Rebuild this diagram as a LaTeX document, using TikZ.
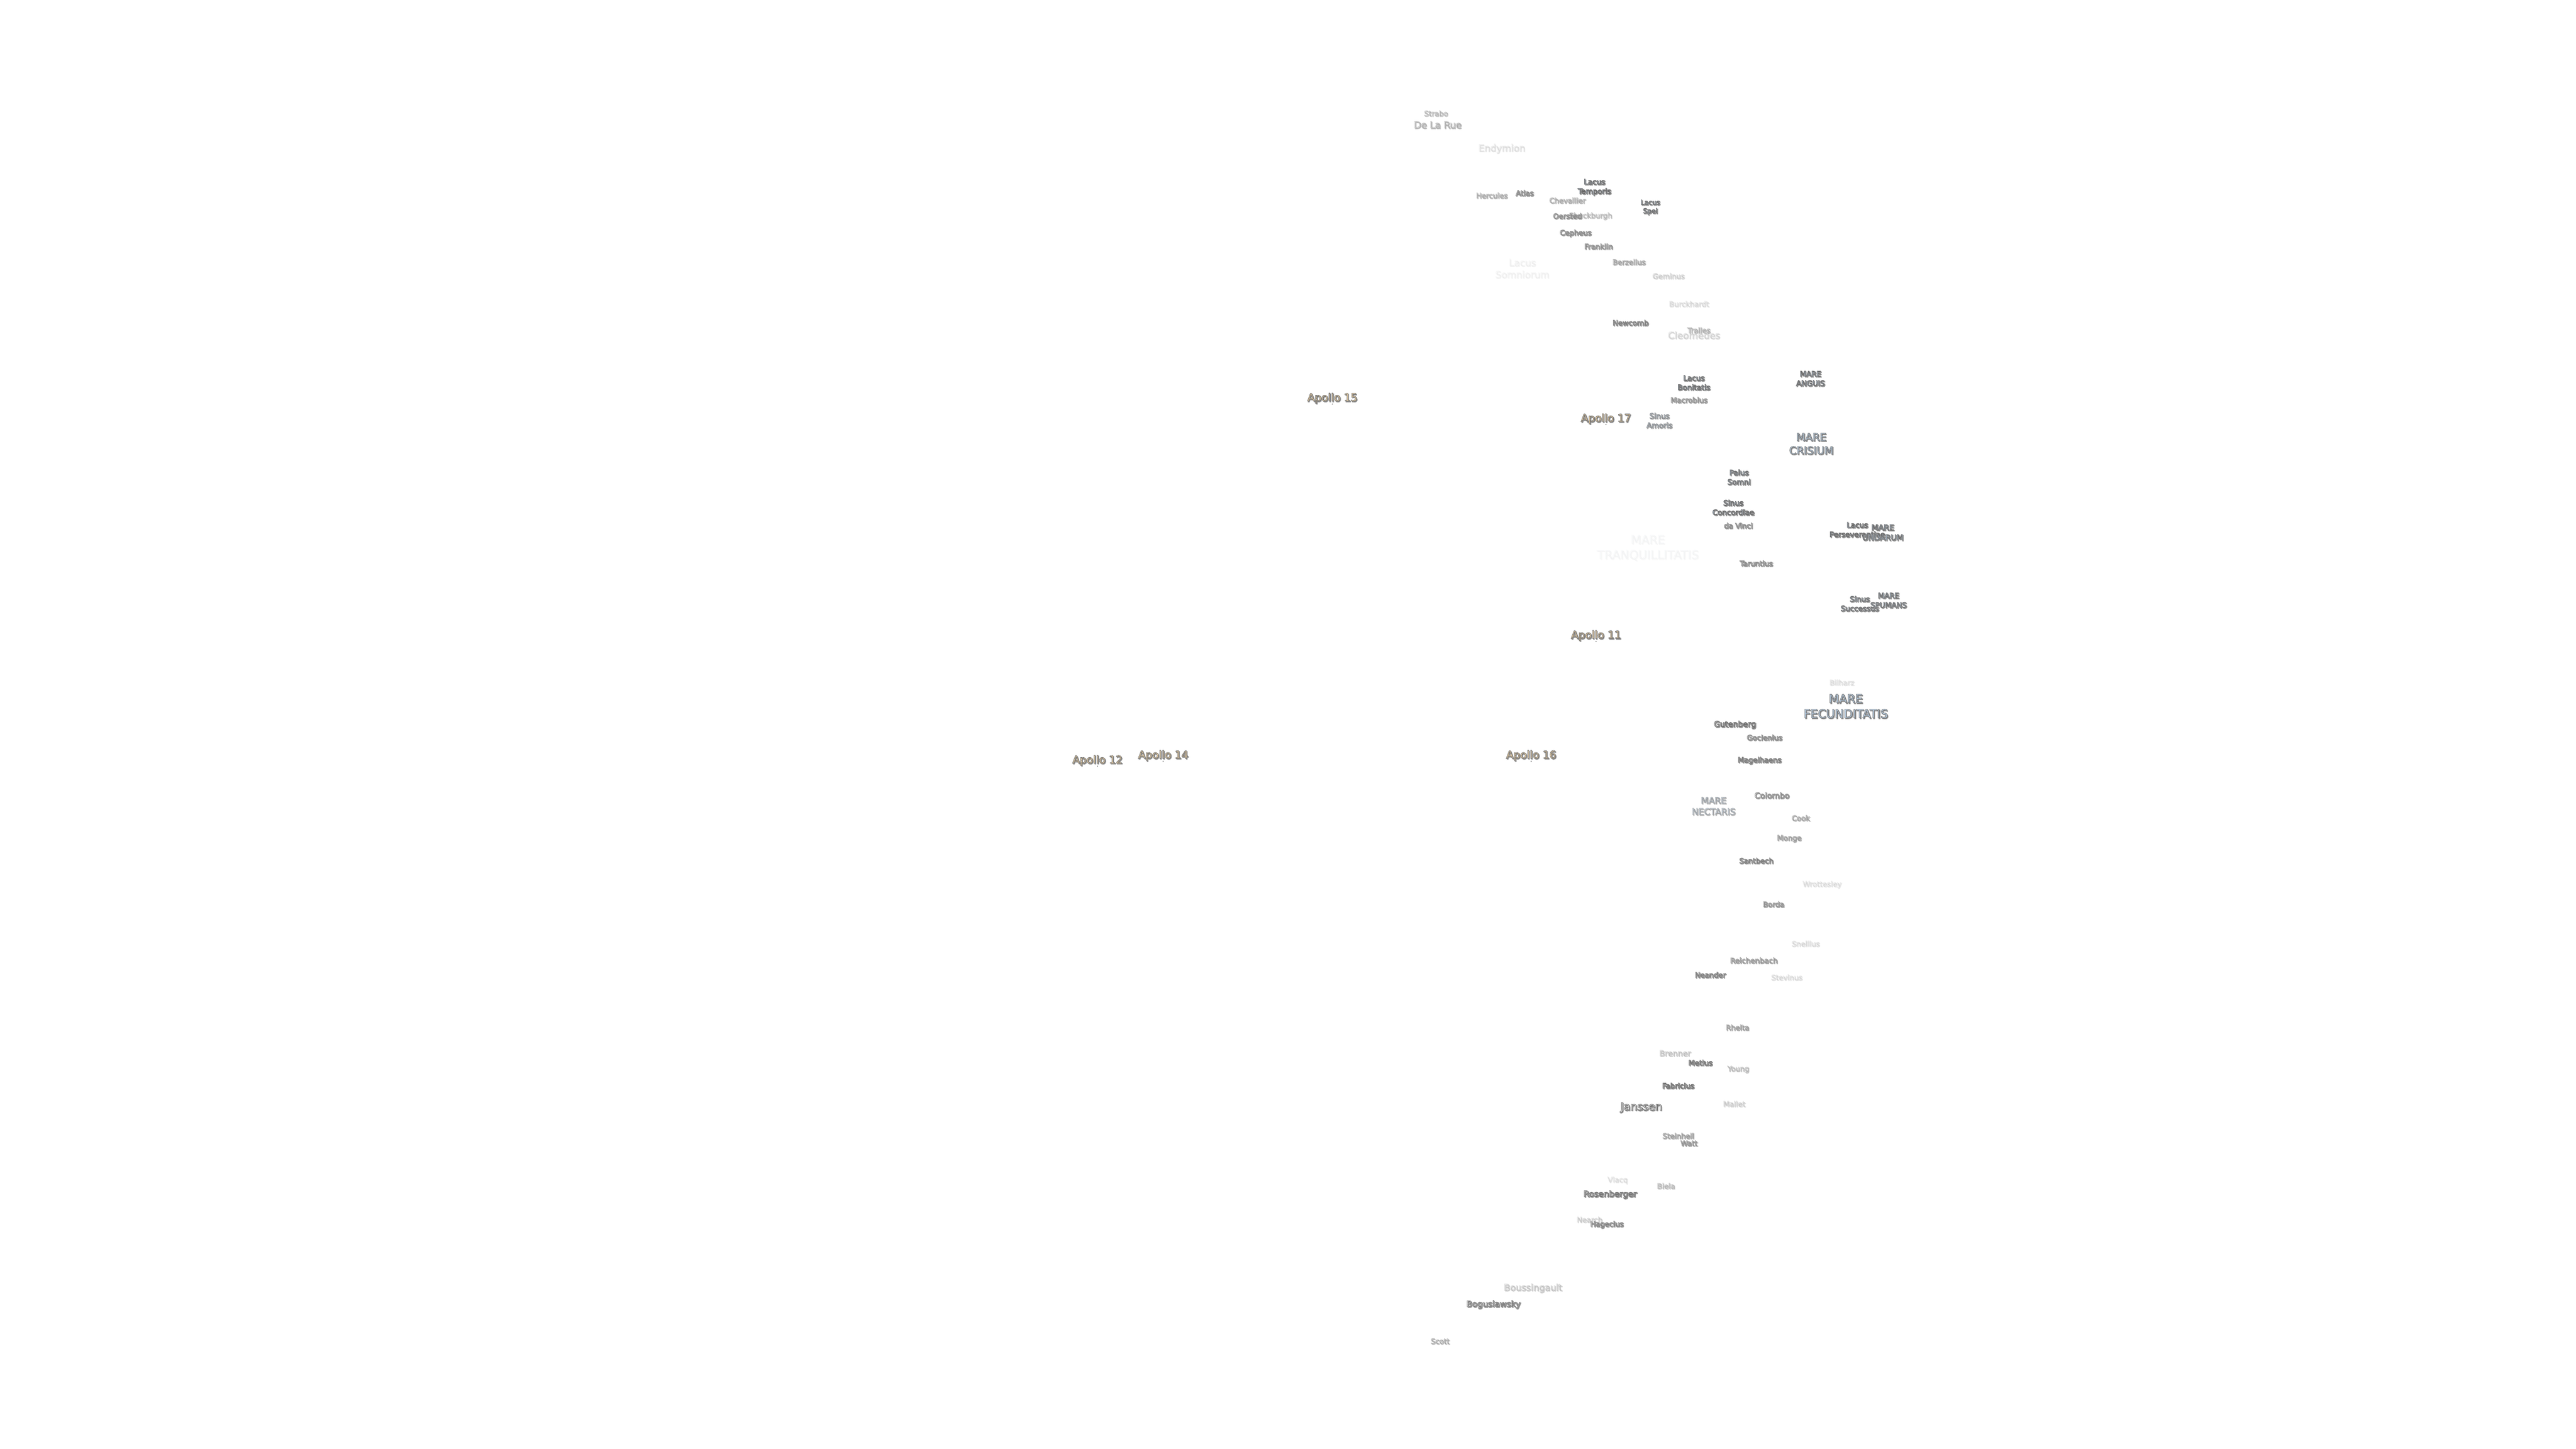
\documentclass[tikz,border=0pt]{standalone}
\usepackage{fontspec}
\newfontfamily\lblfont{DejaVu Sans}
\definecolor{craterfill}{HTML}{FAFAFA}
\definecolor{marefill}{HTML}{C4DDF5}
\definecolor{apollofill}{HTML}{FFE0AE}
\definecolor{shadowgray}{HTML}{858585}
\newcommand{\lbl}[1]{\rlap{\kern.5pt\raisebox{-.5pt}{\color{shadowgray}\special{pdf:code 2 Tr .38 w .58 G}#1\special{pdf:code 0 Tr}}}\special{pdf:code 2 Tr .26 w .42 G}#1\special{pdf:code 0 Tr}}
\tikzset{
  lab/.style={inner sep=0pt, yshift=-.2pt, align=center, font={\lblfont\fontsize{#1}{#1}\selectfont\baselineskip 1.27em}},
  crater/.style={lab=4.4, text=craterfill},
  bigcrater/.style={lab=5.7, text=craterfill},
  mare/.style={lab=4.5, text=marefill},
  midmare/.style={lab=5.6, text=marefill},
  bigmare/.style={lab=7.2, text=marefill},
  apollo/.style={lab=6.5, yshift=-.5pt, text=apollofill},
  apollodot/.style={circle, fill=shadowgray, inner sep=0pt, minimum size=.8pt},
  fade/.style={opacity=#1, execute at begin node={\pgfsetstrokeopacity{#1}}}
}
\begin{document}
\begin{tikzpicture}[x=1pt,y=1pt]
\useasboundingbox (0,0) rectangle (1568,-882);
% north limb
\node (strabo) [crater, fade=.3] at (874,-69) {\lbl{Strabo}};
\node (delarue) [bigcrater, fade=.4] at (875,-76) {\lbl{De La Rue}};
\node (endymion) [bigcrater, fade=.13] at (914,-90.5) {\lbl{Endymion}};
\node (hercules) [crater, fade=.4] at (908,-119) {\lbl{Hercules}};
\node (atlas) [crater, fade=.7] at (928,-117.5) {\lbl{Atlas}};
\node (chevallier) [crater, fade=.4] at (954,-122) {\lbl{Chevallier}};
\node (shuckburgh) [crater, fade=.3] at (968,-131.5) {\lbl{Shuckburgh}};
\node (oersted) [crater, fade=.65] at (954,-131.5) {\lbl{Oersted}};
\node (ltemporis) [mare] at (970.5,-114) {\lbl{Lacus}\\\lbl{Temporis}};
\node (lspei) [mare, lab=4.1, fade=.9] at (1004.5,-126) {\lbl{Lacus}\\\lbl{Spei}};
\node (cepheus) [crater, fade=.7] at (959,-142) {\lbl{Cepheus}};
\node (franklin) [crater, fade=.65] at (973,-150) {\lbl{Franklin}};
\node (berzelius) [crater, fade=.45] at (991.5,-159.5) {\lbl{Berzelius}};
\node (geminus) [crater, fade=.2] at (1015.5,-168) {\lbl{Geminus}};
\node (lsomniorum) [bigcrater, fade=.06] at (926.5,-163.5) {\lbl{Lacus}\\\lbl{Somniorum}};
\node (burckhardt) [crater, fade=.15] at (1028,-185) {\lbl{Burckhardt}};
\node (newcomb) [crater, fade=.8] at (992.5,-196.5) {\lbl{Newcomb}};
\node (cleomedes) [bigcrater, fade=.18] at (1031,-204) {\lbl{Cleomedes}};
\node (tralles) [crater, fade=.35] at (1034,-201) {\lbl{Tralles}};
% crisium
\node (lbonitatis) [mare, fade=.95] at (1031,-233) {\lbl{Lacus}\\\lbl{Bonitatis}};
\node (manguis) [mare] at (1102,-230.5) {\lbl{MARE}\\\lbl{ANGUIS}};
\node (macrobius) [crater, fade=.6] at (1028,-243.5) {\lbl{Macrobius}};
\node (samoris) [mare, fade=.6] at (1010,-256) {\lbl{Sinus}\\\lbl{Amoris}};
\node (mcrisium) [midmare, lab=6.4, fade=.9] at (1102.5,-270) {\lbl{MARE}\\\lbl{CRISIUM}};
\node (psomni) [mare, fade=.9] at (1058.5,-290.5) {\lbl{Palus}\\\lbl{Somni}};
\node (sconcordiae) [mare] at (1055,-309) {\lbl{Sinus}\\\lbl{Concordiae}};
\node (davinci) [crater, fade=.7] at (1058,-320) {\lbl{da Vinci}};
\node (lperseverantiae) [mare] at (1130.5,-322.5) {\lbl{Lacus}\\\lbl{Perseverantiae}};
\node (mundarum) [mare, lab=4.8] at (1146,-324) {\lbl{MARE}\\\lbl{UNDARUM}};
\node (mtranquillitatis) [bigmare, fade=.04] at (1003,-333.5) {\lbl{MARE}\\\lbl{TRANQUILLITATIS}};
\node (taruntius) [crater, fade=.7] at (1069,-343) {\lbl{Taruntius}};
\node (ssuccessus) [mare, fade=.9] at (1132,-367.5) {\lbl{Sinus}\\\lbl{Successus}};
\node (mspumans) [mare, fade=.9] at (1149.5,-365.5) {\lbl{MARE}\\\lbl{SPUMANS}};
% fecunditatis and nectaris
\node (bilharz) [crater, fade=.13] at (1121,-415.5) {\lbl{Bilharz}};
\node (mfecunditatis) [bigmare] at (1123.5,-430) {\lbl{MARE}\\\lbl{FECUNDITATIS}};
\node (gutenberg) [crater, lab=4.8] at (1056,-441) {\lbl{Gutenberg}};
\node (goclenius) [crater, fade=.7] at (1074,-449) {\lbl{Goclenius}};
\node (magelhaens) [crater, fade=.85] at (1071,-463) {\lbl{Magelhaens}};
\node (mnectaris) [midmare, lab=5.4, fade=.45] at (1043,-490.5) {\lbl{MARE}\\\lbl{NECTARIS}};
\node (colombo) [crater, lab=4.8, fade=.7] at (1078.5,-484) {\lbl{Colombo}};
\node (cook) [crater, fade=.45] at (1096,-498) {\lbl{Cook}};
\node (monge) [crater, fade=.5] at (1089,-510.5) {\lbl{Monge}};
\node (santbech) [crater, fade=.8] at (1069,-524) {\lbl{Santbech}};
\node (wrottesley) [crater, fade=.13] at (1109,-538.5) {\lbl{Wrottesley}};
\node (borda) [crater, fade=.6] at (1079.5,-550.5) {\lbl{Borda}};
\node (snellius) [crater, fade=.15] at (1099,-574.5) {\lbl{Snellius}};
\node (reichenbach) [crater, lab=4.5, fade=.55] at (1067.5,-584.5) {\lbl{Reichenbach}};
\node (neander) [crater, fade=.8] at (1041,-593.5) {\lbl{Neander}};
\node (stevinus) [crater, fade=.15] at (1087.5,-595) {\lbl{Stevinus}};
% south
\node (rheita) [crater, fade=.5] at (1057.5,-625.5) {\lbl{Rheita}};
\node (brenner) [crater, lab=4.8, fade=.25] at (1019.5,-641) {\lbl{Brenner}};
\node (metius) [crater, fade=.9] at (1035,-647) {\lbl{Metius}};
\node (young) [crater, fade=.3] at (1058,-651) {\lbl{Young}};
\node (fabricius) [crater, fade=.95] at (1021.5,-661) {\lbl{Fabricius}};
\node (janssen) [bigcrater, lab=6.6] at (999,-674) {\lbl{Janssen}};
\node (mallet) [crater, fade=.2] at (1055.5,-672) {\lbl{Mallet}};
\node (steinheil) [crater, fade=.5] at (1021.5,-691.5) {\lbl{Steinheil}};
\node (watt) [crater, fade=.6] at (1028,-696) {\lbl{Watt}};
\node (vlacq) [crater, fade=.13] at (984.5,-718.5) {\lbl{Vlacq}};
\node (biela) [crater, fade=.3] at (1014,-722) {\lbl{Biela}};
\node (rosenberger) [crater, lab=5.1, fade=.95] at (980,-727) {\lbl{Rosenberger}};
\node (nearch) [crater, fade=.2] at (967.5,-742.5) {\lbl{Nearch}};
\node (hagecius) [crater, fade=.75] at (978,-745.5) {\lbl{Hagecius}};
\node (boussingault) [crater, lab=5.5, fade=.25] at (933,-784) {\lbl{Boussingault}};
\node (boguslawsky) [crater, lab=5.1, fade=.85] at (909,-794) {\lbl{Boguslawsky}};
\node (scott) [crater, fade=.4] at (876.5,-816.5) {\lbl{Scott}};
% landing sites
\node (apollo15) [apollo] at (811,-242) {\lbl{Apollo 15}};
\node (apollo17) [apollo] at (977.5,-254.5) {\lbl{Apollo 17}};
\node (apollo11) [apollo] at (971.5,-386.5) {\lbl{Apollo 11}};
\node (apollo16) [apollo] at (932,-459.5) {\lbl{Apollo 16}};
\node (apollo14) [apollo] at (708,-459.5) {\lbl{Apollo 14}};
\node (apollo12) [apollo] at (668,-462.5) {\lbl{Apollo 12}};
\node (dot15) [apollodot] at (811,-246) {};
\node (dot17) [apollodot] at (977.5,-258.5) {};
\node (dot11) [apollodot] at (971.5,-390.5) {};
\node (dot16) [apollodot] at (932,-463.5) {};
\node (dot14) [apollodot] at (708,-463.5) {};
\node (dot12) [apollodot] at (668,-466.5) {};
\end{tikzpicture}
\end{document}
